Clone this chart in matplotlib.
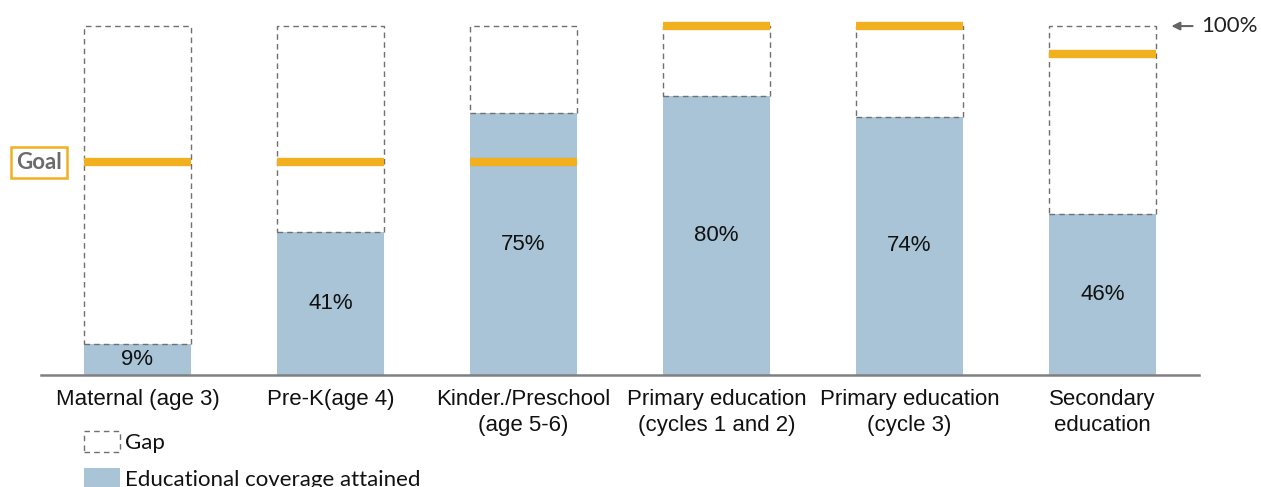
import matplotlib
matplotlib.use("Agg")
import matplotlib.pyplot as plt
from matplotlib.patches import Patch
import matplotlib.transforms as mtransforms

categories = ["Maternal (age 3)", "Pre-K(age 4)", "Kinder./Preschool\n(age 5-6)",
              "Primary education\n(cycles 1 and 2)", "Primary education\n(cycle 3)",
              "Secondary\neducation"]
coverage = [9, 41, 75, 80, 74, 46]
goals = [61, 61, 61, 100, 100, 92]
total = 100

BLUE = "#A8C4D6"
ORANGE = "#F2B01E"
GRAY = "#707070"

fig = plt.figure(figsize=(12.61, 4.87), dpi=100)
ax = fig.add_axes([41/1261, 1-375/487, (1199-41)/1261, (375-10)/487])

x = list(range(len(categories)))
w = 0.555
ax.bar(x, coverage, width=w, color=BLUE, edgecolor="none", zorder=2)
gaps = [total - v for v in coverage]
ax.bar(x, gaps, bottom=coverage, width=w, fill=False, edgecolor=GRAY,
       linestyle=(0, (4, 3)), linewidth=1.0, zorder=3)
for xi, g in zip(x, goals):
    ax.hlines(g, xi - w/2, xi + w/2, color=ORANGE, linewidth=6, zorder=4)
for xi, v in zip(x, coverage):
    ax.text(xi, v/2, f"{v}%", ha="center", va="center", fontsize=16,
            family="Liberation Sans", color="#111111", zorder=5)

ax.set_xlim(-0.5, 5.5)
ax.set_ylim(0, 104.6)
for s in ["top", "right", "left"]:
    ax.spines[s].set_visible(False)
ax.spines["bottom"].set_color("#808080")
ax.spines["bottom"].set_linewidth(1.8)
ax.set_yticks([])
ax.set_xticks(x)
ax.set_xticklabels(categories, fontsize=16, family="Liberation Sans", color="#111111",
                   linespacing=1.3)
ax.tick_params(axis="x", length=0, pad=10)

# Goal label
tr = mtransforms.blended_transform_factory(fig.transFigure, ax.transData)
ax.text(39/1261, goals[0], "Goal", transform=tr, ha="center", va="center",
        fontsize=16, family="Lato", fontweight="bold", color="#6b6b6b",
        bbox=dict(boxstyle="square,pad=0.22", facecolor="white", edgecolor=ORANGE, linewidth=1.8))

# 100% marker
ax.annotate("100%", xy=(5.357, total), xytext=(5.51, total), textcoords="data",
            ha="left", va="center", fontsize=16, family="Lato", color="#222222",
            arrowprops=dict(arrowstyle="-|>", color="#666666", lw=1.5, mutation_scale=12,
                            shrinkA=4, shrinkB=0),
            annotation_clip=False)

handles = [Patch(fill=False, edgecolor=GRAY, linestyle=(0, (4, 3)), linewidth=1.0),
           Patch(facecolor=BLUE, edgecolor="none")]
leg = fig.legend(handles, ["Gap", "Educational coverage attained"], loc="upper left",
                 bbox_to_anchor=(73/1261, 1-420/487), frameon=False,
                 prop=dict(family="Lato", size=16), handlelength=1.6, handleheight=1.05,
                 labelspacing=0.68, handletextpad=0.25, borderpad=0)
for t in leg.get_texts():
    t.set_color("#111111")

fig.savefig("out.png", dpi=100)
